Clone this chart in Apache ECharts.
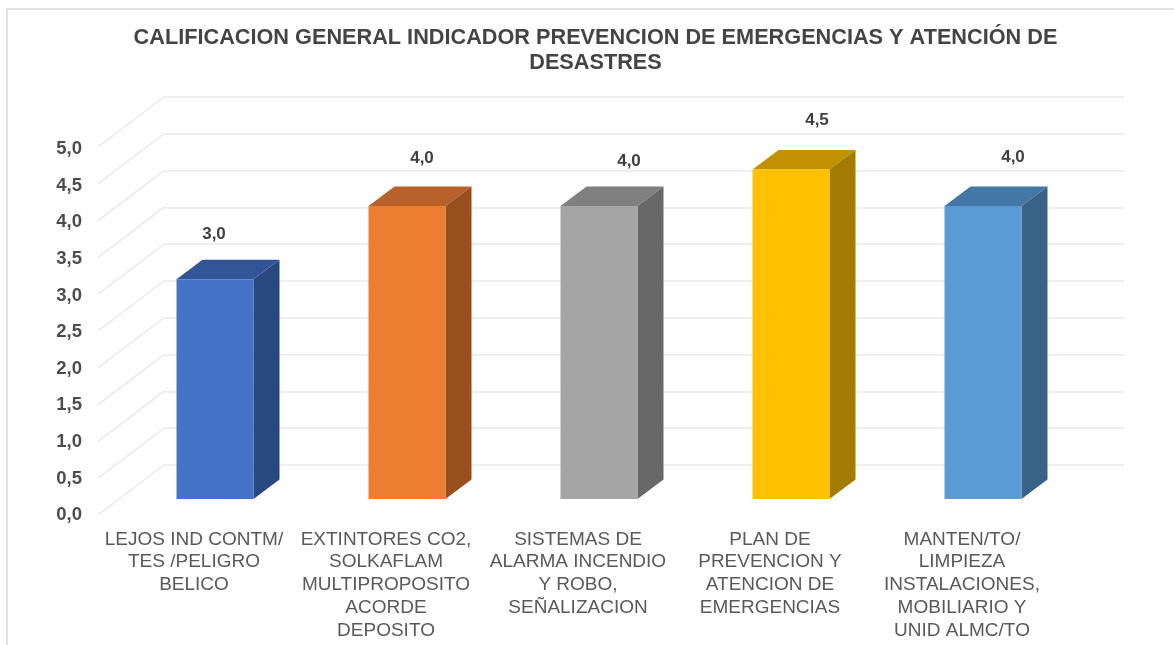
<!DOCTYPE html>
<html>
<head>
<meta charset="utf-8">
<style>html,body{margin:0;padding:0;background:#fff}#c{width:1174px;height:645px}</style>
<script src="https://cdn.jsdelivr.net/npm/echarts@6/dist/echarts.min.js"></script>
</head>
<body>
<div id="c"></div>
<script>
const titleText = 'CALIFICACION GENERAL INDICADOR PREVENCION DE EMERGENCIAS Y ATENCIÓN DE\nDESASTRES';
const categories = [
  'LEJOS IND CONTM/\nTES /PELIGRO\nBELICO',
  'EXTINTORES CO2,\nSOLKAFLAM\nMULTIPROPOSITO\nACORDE\nDEPOSITO',
  'SISTEMAS DE\nALARMA INCENDIO\nY ROBO,\nSEÑALIZACION',
  'PLAN DE\nPREVENCION Y\nATENCION DE\nEMERGENCIAS',
  'MANTEN/TO/\nLIMPIEZA\nINSTALACIONES,\nMOBILIARIO Y\nUNID ALMC/TO'
];
const values = [3.0, 4.0, 4.0, 4.5, 4.0];
const yTicks = [0, 0.5, 1, 1.5, 2, 2.5, 3, 3.5, 4, 4.5, 5];
const frontColors = ['#4472C4', '#ED7D31', '#A5A5A5', '#FFC000', '#5B9BD5'];
const topColors = ['#325597', '#B9612A', '#808080', '#C29200', '#4577A6'];
const sideColors = ['#2A4880', '#974F1E', '#686868', '#A37B00', '#386387'];
const labelShiftX = [-1, 15, 30, 26, 30];
const labelShiftY = [-45, -48, -45, -49, -49];

const comma = v => v.toFixed(1).replace('.', ',');
const chart = echarts.init(document.getElementById('c'), null, {renderer: 'canvas'});
const GREY = '#E8E8E8';
const wallDX = 66, wallDY = -50;
const barW = 77, depthX = 26, depthY = -19.5;

chart.setOption({
  animation: false,
  backgroundColor: '#fff',
  title: {
    text: titleText, left: 590.5, top: 21, textAlign: 'center',
    textStyle: {fontFamily: 'Liberation Sans', fontWeight: 'bold', fontSize: 21.7, lineHeight: 25, color: '#444444'}
  },
  graphic: [{
    type: 'polyline', silent: true, z: 0,
    shape: {points: [[7, 645], [7, 9], [1174, 9]]},
    style: {stroke: '#E3E3E3', lineWidth: 2, fill: null}
  }],
  grid: [
    {left: 98, top: 147, width: 960, height: 368},
    {left: 164, top: 97, width: 960, height: 368},
    {left: 119, top: 132.75, width: 960, height: 366.25},
    {left: 98, top: 149, width: 960, height: 366.25}
  ],
  xAxis: [
    {type: 'category', gridIndex: 0, data: categories,
     axisLine: {show: false}, axisTick: {show: false},
     axisLabel: {interval: 0, margin: 13, fontFamily: 'Liberation Sans', fontSize: 19, lineHeight: 22.8, color: '#595959', align: 'center'}},
    {type: 'category', gridIndex: 1, data: categories, show: false},
    {type: 'category', gridIndex: 2, data: categories, show: false},
    {type: 'category', gridIndex: 3, data: categories, show: false}
  ],
  yAxis: [
    {type: 'value', gridIndex: 0, min: 0, max: 5, interval: 0.5, show: false, splitLine: {show: false}},
    {type: 'value', gridIndex: 1, min: 0, max: 5, interval: 0.5,
     axisLine: {show: false}, axisTick: {show: false}, axisLabel: {show: false},
     splitLine: {show: true, lineStyle: {color: GREY, width: 1.6}}},
    {type: 'value', gridIndex: 2, min: 0, max: 5, interval: 0.5, show: false, splitLine: {show: false}},
    {type: 'value', gridIndex: 3, min: 0, max: 5, interval: 0.5,
     axisLine: {show: false}, axisTick: {show: false}, splitLine: {show: false},
     axisLabel: {margin: 16, fontFamily: 'Liberation Sans', fontWeight: 'bold', fontSize: 18.5, color: '#4D4D4D', formatter: v => comma(v)}}
  ],
  series: [
    {
      type: 'custom', xAxisIndex: 0, yAxisIndex: 0, z: 1, silent: true,
      data: yTicks.map(t => [0, t]),
      renderItem(params, api) {
        const x0 = params.coordSys.x;
        const y0 = api.coord([0, api.value(1)])[1];
        return {type: 'line', shape: {x1: x0, y1: y0, x2: x0 + wallDX, y2: y0 + wallDY},
                style: {stroke: GREY, lineWidth: 1.4}};
      }
    },
    {
      type: 'custom', xAxisIndex: 2, yAxisIndex: 2, z: 3, silent: true,
      data: values.map((v, i) => [i, v]),
      renderItem(params, api) {
        const i = api.value(0);
        const top = api.coord([i, api.value(1)]);
        const base = api.coord([i, 0]);
        const l = top[0] - barW / 2, r = l + barW;
        const yt = top[1], yb = base[1];
        return {type: 'group', children: [
          {type: 'polygon', shape: {points: [[l, yt], [r, yt], [r + depthX, yt + depthY], [l + depthX, yt + depthY]]},
           style: {fill: topColors[i]}},
          {type: 'polygon', shape: {points: [[r, yt], [r + depthX, yt + depthY], [r + depthX, yb + depthY], [r, yb]]},
           style: {fill: sideColors[i]}},
          {type: 'rect', shape: {x: l, y: yt, width: barW, height: yb - yt}, style: {fill: frontColors[i]}},
          {type: 'text', style: {
            x: (l + r) / 2 + labelShiftX[i], y: yt + labelShiftY[i],
            text: comma(api.value(1)), align: 'center', verticalAlign: 'middle',
            font: 'bold 17px "Liberation Sans"', fill: '#404040'}}
        ]};
      }
    }
  ]
});
</script>
</body>
</html>
